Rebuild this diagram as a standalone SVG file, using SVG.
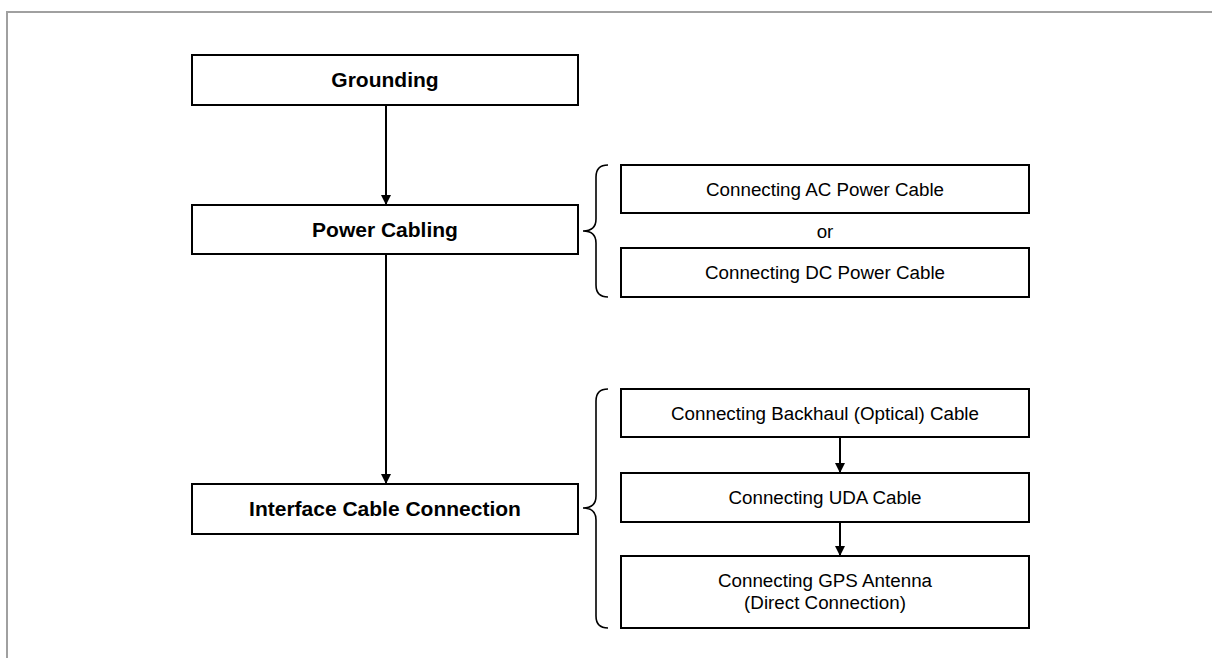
<svg xmlns="http://www.w3.org/2000/svg" width="1212" height="658" viewBox="0 0 1212 658">
<style>
.box{fill:#fff;stroke:#000;stroke-width:2}
.b{font-family:"Liberation Sans",Arial,sans-serif;font-weight:bold;font-size:21px;text-anchor:middle;fill:#000}
.t{font-family:"Liberation Sans",Arial,sans-serif;font-size:18.8px;text-anchor:middle;fill:#000}
.ln{stroke:#000;stroke-width:2;fill:none}
.br{stroke:#000;stroke-width:1.6;fill:none}
</style>
<defs>
<marker id="ah" markerWidth="10" markerHeight="11" refX="10" refY="5" orient="auto" markerUnits="userSpaceOnUse">
<path d="M0,0 L10,5 L0,10 Z" fill="#000"/>
</marker>
</defs>
<rect x="0" y="0" width="1212" height="658" fill="#fff"/>
<rect id="frame" x="7" y="12" width="1220" height="660" fill="none" stroke="#a0a0a0" stroke-width="2"/>
<g id="connectors">
<line class="ln" x1="386" y1="105" x2="386" y2="205" marker-end="url(#ah)"/>
<line class="ln" x1="386" y1="254" x2="386" y2="484" marker-end="url(#ah)"/>
<line class="ln" x1="840" y1="437" x2="840" y2="473" marker-end="url(#ah)"/>
<line class="ln" x1="840" y1="522" x2="840" y2="556" marker-end="url(#ah)"/>
<path class="br" d="M608,165 Q596,165 596,177 L596,219 Q596,231 583,231 Q596,231 596,243 L596,285 Q596,297 608,297"/>
<path class="br" d="M608,389 Q596,389 596,401 L596,496 Q596,508 583,508 Q596,508 596,520 L596,616 Q596,628 608,628"/>
</g>
<g id="grounding">
<rect class="box" x="192" y="55" width="386" height="50"/>
<text class="b" x="385" y="87">Grounding</text>
</g>
<g id="power-cabling">
<rect class="box" x="192" y="205" width="386" height="49"/>
<text class="b" x="385" y="237">Power Cabling</text>
</g>
<g id="interface-cable">
<rect class="box" x="192" y="484" width="386" height="50"/>
<text class="b" x="385" y="516">Interface Cable Connection</text>
</g>
<g id="ac-power">
<rect class="box" x="621" y="165" width="408" height="48"/>
<text class="t" x="825" y="196">Connecting AC Power Cable</text>
</g>
<g id="or-label">
<text class="t" x="825" y="238">or</text>
</g>
<g id="dc-power">
<rect class="box" x="621" y="248" width="408" height="49"/>
<text class="t" x="825" y="279">Connecting DC Power Cable</text>
</g>
<g id="backhaul">
<rect class="box" x="621" y="389" width="408" height="48"/>
<text class="t" x="825" y="420">Connecting Backhaul (Optical) Cable</text>
</g>
<g id="uda">
<rect class="box" x="621" y="473" width="408" height="49"/>
<text class="t" x="825" y="504">Connecting UDA Cable</text>
</g>
<g id="gps">
<rect class="box" x="621" y="556" width="408" height="72"/>
<text class="t" x="825" y="587">Connecting GPS Antenna</text>
<text class="t" x="825" y="609">(Direct Connection)</text>
</g>
</svg>
